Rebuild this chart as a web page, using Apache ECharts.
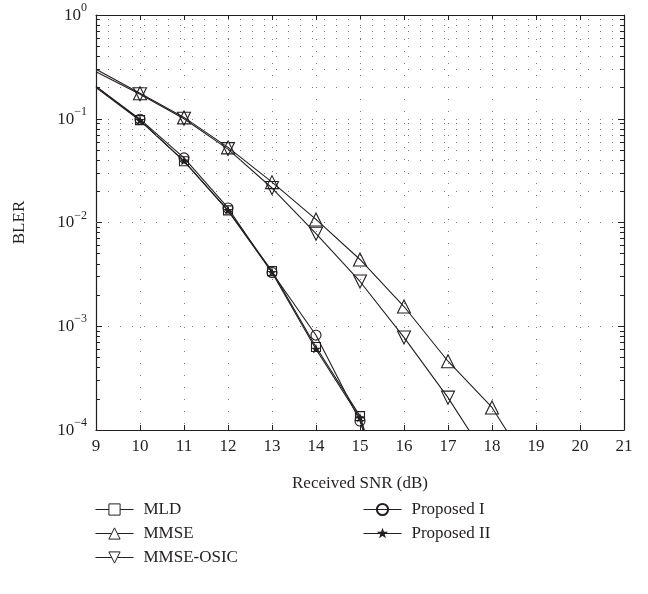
<!DOCTYPE html>
<html>
<head>
<meta charset="utf-8">
<title>BLER vs received SNR</title>
<script src="https://cdn.jsdelivr.net/npm/echarts@6/dist/echarts.min.js"></script>
<style>
    html, body { margin: 0; padding: 0; background: #fff; }
    #main { width: 648px; height: 594px; }
</style>
</head>
<body>
<div id="main"></div>
<script>
// x 轴: 接收信噪比 (dB)
var snr = [9, 10, 11, 12, 13, 14, 15, 16, 17, 18, 19];
// BLER 数据
var mld = [0.205, 0.097, 0.039, 0.0131, 0.0034, 0.00063, 0.000136, 0.000006];
var mmse = [0.30, 0.176, 0.103, 0.053, 0.0245, 0.0107, 0.0044, 0.00155, 0.00046, 0.000165, 0.000035];
var mmseOsic = [0.284, 0.172, 0.100, 0.051, 0.0215, 0.0078, 0.0027, 0.00078, 0.000205, 0.000045];
var proposed1 = [0.205, 0.099, 0.042, 0.0138, 0.0033, 0.00082, 0.000122, 0.000006];
var proposed2 = [0.200, 0.096, 0.039, 0.0130, 0.0033, 0.00060, 0.000130, 0.000006];

var decades = [1e-4, 1e-3, 1e-2, 1e-1, 1];
var minorSteps = [2, 3, 4, 5, 6, 7, 8, 9];

var font = 'Liberation Serif';
var ink = '#231f20';
var dots = [1, 11];
var dotColor = '#777';

function makeData(vals) {
    var out = [];
    for (var i = 0; i < vals.length; i++) {
        if (vals[i] == null) continue;
        var item = { value: [snr[i], vals[i]] };
        if (i === 0) item.symbol = 'none'; // 曲线从左边框开始, 无标记
        out.push(item);
    }
    return out;
}

// 对数轴的次网格线和次刻度 (2..9)
var minorLines = [];
for (var d = 0; d < decades.length - 1; d++) {
    for (var k = 0; k < minorSteps.length; k++) {
        var v = decades[d] * minorSteps[k];
        minorLines.push({ yAxis: v });
        minorLines.push([{ coord: [9, v], lineStyle: { type: 'solid', color: ink, width: 1 } }, { coord: [9.09, v] }]);
        minorLines.push([{ coord: [20.91, v], lineStyle: { type: 'solid', color: ink, width: 1 } }, { coord: [21, v] }]);
    }
}

// 小星形, 外加空白边界让它显得更小
var star = 'path://M-10,-10 M10,10 M0,-5 L1.2,-1.6 L4.8,-1.5 L1.9,0.6 L2.9,4 L0,2 L-2.9,4 L-1.9,0.6 L-4.8,-1.5 L-1.2,-1.6 Z';

function lineSeries(name, vals, symbol, size, rotate, fill) {
    return {
        name: name,
        type: 'line',
        data: makeData(vals),
        symbol: symbol,
        symbolSize: size,
        symbolRotate: rotate,
        showAllSymbol: true,
        clip: true,
        lineStyle: { color: ink, width: 1.1 },
        itemStyle: { color: fill, borderColor: ink, borderWidth: 1.1 }
    };
}

var legendText = { fontFamily: font, fontSize: 17, color: ink, lineHeight: 16, padding: [0, 0, 0, 5] };

var chart = echarts.init(document.getElementById('main'));
var option = {
    backgroundColor: '#fff',
    animation: false,
    grid: { left: 96, right: 24, top: 15, bottom: 164 },
    xAxis: [{
        type: 'value',
        min: 9,
        max: 21,
        interval: 1,
        position: 'bottom',
        name: 'Received SNR (dB)',
        nameLocation: 'middle',
        nameGap: 45,
        nameTextStyle: { fontFamily: font, fontSize: 17, color: ink },
        axisLine: { lineStyle: { color: ink, width: 1.2 } },
        axisTick: { inside: true, length: 5, lineStyle: { color: ink } },
        axisLabel: { fontFamily: font, fontSize: 17, color: ink, margin: 8 },
        splitLine: { show: true, lineStyle: { type: dots, color: dotColor, width: 1 } }
    }, {
        type: 'value',
        min: 9,
        max: 21,
        interval: 1,
        position: 'top',
        axisLine: { lineStyle: { color: ink, width: 1.2 } },
        axisTick: { inside: true, length: 5, lineStyle: { color: ink } },
        axisLabel: { show: false },
        splitLine: { show: false }
    }],
    yAxis: [{
        type: 'log',
        logBase: 10,
        min: 1e-4,
        max: 1,
        position: 'left',
        name: 'BLER',
        nameLocation: 'middle',
        nameGap: 68,
        nameTextStyle: { fontFamily: font, fontSize: 17, color: ink },
        axisLine: { show: true, lineStyle: { color: ink, width: 1.2 } },
        axisTick: { inside: true, length: 6, lineStyle: { color: ink } },
        axisLabel: {
            margin: 9,
            formatter: function (val) {
                var e = Math.round(Math.log10(val));
                var s = e < 0 ? '\u2212' + (-e) : String(e);
                return '{b|10}{s|' + s + '}';
            },
            rich: {
                b: { fontFamily: font, fontSize: 17, color: ink, lineHeight: 18, verticalAlign: 'bottom' },
                s: { fontFamily: font, fontSize: 12, color: ink, lineHeight: 12, padding: [0, 0, 10, 0], verticalAlign: 'bottom' }
            }
        },
        splitLine: { show: true, lineStyle: { type: dots, color: dotColor, width: 1 } }
    }, {
        type: 'log',
        logBase: 10,
        min: 1e-4,
        max: 1,
        position: 'right',
        axisLine: { show: true, lineStyle: { color: ink, width: 1.2 } },
        axisTick: { inside: true, length: 6, lineStyle: { color: ink } },
        axisLabel: { show: false },
        splitLine: { show: false }
    }],
    legend: [{
        data: ['MLD', 'MMSE', 'MMSE-OSIC'],
        orient: 'vertical',
        left: 95,
        top: 501,
        padding: 0,
        itemWidth: 38,
        itemHeight: 14,
        itemGap: 7,
        lineStyle: { width: 1 },
        itemStyle: { color: '#fff', borderWidth: 1 },
        textStyle: legendText
    }, {
        data: ['Proposed I', 'Proposed II'],
        orient: 'vertical',
        left: 363,
        top: 501,
        padding: 0,
        itemWidth: 38,
        itemHeight: 14,
        itemGap: 7,
        lineStyle: { width: 1 },
        textStyle: legendText
    }],
    series: [
        {
            // 网格辅助线
            name: 'grid',
            type: 'line',
            data: [],
            silent: true,
            markLine: {
                silent: true,
                symbol: ['none', 'none'],
                label: { show: false },
                lineStyle: { type: dots, color: dotColor, width: 1 },
                data: minorLines
            }
        },
        lineSeries('MLD', mld, 'rect', 9, 0, 'rgba(0,0,0,0)'),
        lineSeries('MMSE', mmse, 'triangle', 13, 0, 'rgba(0,0,0,0)'),
        lineSeries('MMSE-OSIC', mmseOsic, 'triangle', 13, 180, 'rgba(0,0,0,0)'),
        lineSeries('Proposed I', proposed1, 'circle', 10, 0, 'rgba(0,0,0,0)'),
        lineSeries('Proposed II', proposed2, star, 14, 0, ink)
    ]
};
chart.setOption(option);
</script>
</body>
</html>
